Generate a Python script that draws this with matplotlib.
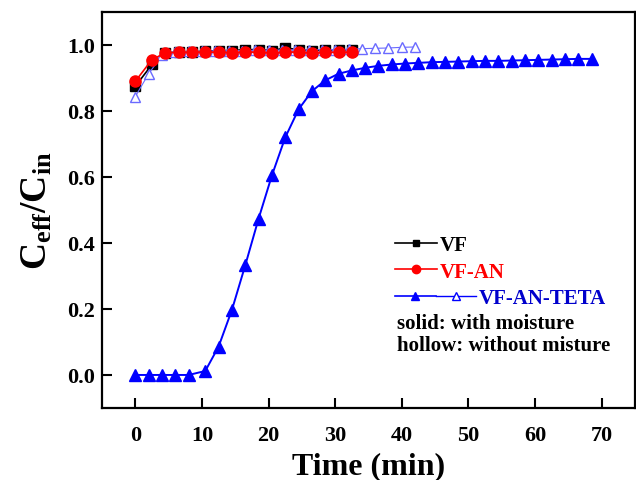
import numpy as np
import matplotlib
matplotlib.use('Agg')
import matplotlib.pyplot as plt
from matplotlib.lines import Line2D
from matplotlib.legend_handler import HandlerTuple

plt.rcParams['font.family'] = 'Liberation Serif'
plt.rcParams['font.weight'] = 'bold'
plt.rcParams['mathtext.fontset'] = 'custom'
plt.rcParams['mathtext.rm'] = 'Liberation Serif:bold'
plt.rcParams['mathtext.bf'] = 'Liberation Serif:bold'

# VF and VF-AN (with moisture)
t_vf = [0, 2.5, 4.5, 6.5, 8.5, 10.5, 12.5, 14.5, 16.5, 18.5, 20.5, 22.5, 24.5, 26.5, 28.5, 30.5, 32.5]
c_vf = [0.874, 0.940, 0.975, 0.978, 0.978, 0.980, 0.982, 0.982, 0.985, 0.985, 0.982, 0.990, 0.985, 0.982, 0.984, 0.984, 0.985]
c_vfan = [0.889, 0.955, 0.975, 0.977, 0.977, 0.978, 0.977, 0.976, 0.978, 0.977, 0.975, 0.977, 0.978, 0.974, 0.977, 0.977, 0.977]

# VF-AN-TETA with moisture (solid)
t_teta = [0, 2, 4, 6, 8, 10.5, 12.5, 14.5, 16.5, 18.5, 20.5, 22.5, 24.5, 26.5, 28.5, 30.5, 32.5,
          34.5, 36.5, 38.5, 40.5, 42.5, 44.5, 46.5, 48.5, 50.5, 52.5, 54.5, 56.5, 58.5, 60.5,
          62.5, 64.5, 66.5, 68.5]
c_teta = [0.0, 0.0, 0.0, 0.0, 0.0, 0.012, 0.086, 0.197, 0.332, 0.473, 0.604, 0.719, 0.804, 0.859,
          0.892, 0.912, 0.922, 0.930, 0.936, 0.940, 0.943, 0.945, 0.947, 0.948, 0.949, 0.950,
          0.951, 0.951, 0.952, 0.953, 0.954, 0.955, 0.956, 0.957, 0.957]

# VF-AN-TETA without moisture (hollow)
t_teta_dry = [0, 2, 4, 6, 8, 10, 12, 14, 16, 18, 20, 22, 24, 26, 28, 30, 32, 34, 36, 38, 40, 42]
c_teta_dry = [0.843, 0.912, 0.968, 0.978, 0.980, 0.980, 0.981, 0.982, 0.982, 0.983, 0.983, 0.984,
              0.984, 0.984, 0.985, 0.985, 0.986, 0.988, 0.989, 0.990, 0.992, 0.993]

hollow_c = '#6a6aff'

fig = plt.figure(figsize=(6.36, 4.81), dpi=100)
ax = fig.add_axes([0.1604, 0.1497, 0.838, 0.824])

ax.plot(t_vf, c_vf, '-s', color='black', ms=6.5, lw=1.2, zorder=3)
ax.plot(t_teta_dry, c_teta_dry, '-^', color=hollow_c, mfc='white', mec=hollow_c, ms=7.5, lw=0.8, zorder=4)
ax.plot(t_vf, c_vfan, '-o', color='red', ms=8, lw=1.2, zorder=5)
ax.plot(t_teta, c_teta, '-^', color='blue', ms=9, lw=1.4, zorder=6)

ax.set_xlim(-5, 75)
ax.set_ylim(-0.1, 1.1)
ax.set_xticks(np.arange(0, 71, 10))
ax.set_yticks(np.arange(0, 1.01, 0.2))
ax.yaxis.set_major_formatter(plt.FormatStrFormatter('%.1f'))
ax.tick_params(direction='in', length=7, width=1.5, labelsize=16, top=False, right=False)
ax.tick_params(axis='x', pad=12)
ax.tick_params(axis='y', pad=5)
for s in ax.spines.values():
    s.set_linewidth(1.6)

ax.set_xlabel('Time (min)', fontsize=23, fontweight='bold', labelpad=5)
ax.set_ylabel(r'$\mathbf{C_{eff}/C_{in}}$', fontsize=27, labelpad=9)

# legend
h_vf = Line2D([], [], color='black', marker='s', ms=5, lw=1.2)
h_an = Line2D([], [], color='red', marker='o', ms=6, lw=1.2)
leg1 = ax.legend([h_vf, h_an], ['VF', 'VF-AN'], loc='upper left', bbox_to_anchor=(0.55, 0.437),
                 frameon=False, borderpad=0, borderaxespad=0, handlelength=2.0,
                 handletextpad=0.15, labelspacing=0.33, prop={'size': 15, 'weight': 'bold'})
leg1.get_texts()[1].set_color('red')
ax.add_artist(leg1)

h_ts = Line2D([], [], color='blue', marker='^', ms=6, lw=1.2)
h_td = Line2D([], [], color='blue', marker='^', mfc='white', mec='blue', ms=6, lw=1.0)
leg2 = ax.legend([(h_ts, h_td)], ['VF-AN-TETA'], loc='upper left', bbox_to_anchor=(0.55, 0.302),
                 frameon=False, borderpad=0, borderaxespad=0, handlelength=3.9,
                 handletextpad=0.1, prop={'size': 15, 'weight': 'bold'},
                 handler_map={tuple: HandlerTuple(ndivide=None, pad=0)})
leg2.get_texts()[0].set_color('#0000cc')

ax.text(0.553, 0.214, 'solid: with moisture', transform=ax.transAxes, fontsize=15,
        fontweight='bold', va='center', ha='left')
ax.text(0.553, 0.158, 'hollow: without misture', transform=ax.transAxes, fontsize=15,
        fontweight='bold', va='center', ha='left')

fig.savefig('out.png', dpi=100)
